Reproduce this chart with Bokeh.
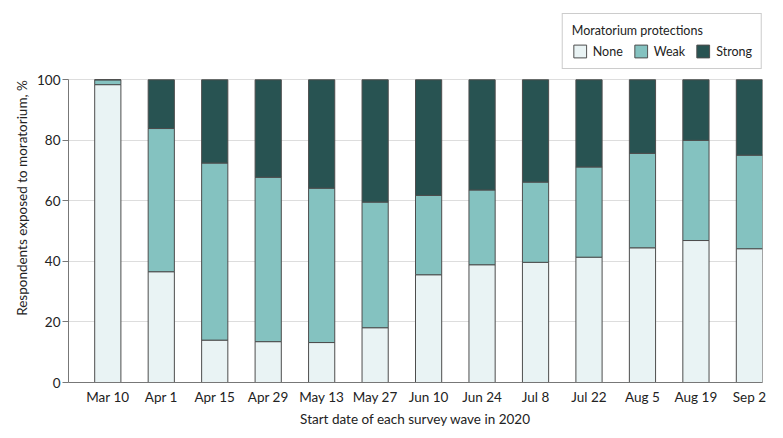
from bokeh.plotting import figure
from bokeh.models import ColumnDataSource, Legend, LegendItem, FixedTicker
from bokeh.embed import file_html
from bokeh.resources import INLINE

categories = ["Mar 10", "Apr 1", "Apr 15", "Apr 29", "May 13", "May 27", "Jun 10",
              "Jun 24", "Jul 8", "Jul 22", "Aug 5", "Aug 19", "Sep 2"]
none_pct = [98.4, 36.6, 14.0, 13.5, 13.2, 18.1, 35.6, 38.9, 39.7, 41.4, 44.5, 46.9, 44.2]
weak_pct = [1.6, 47.3, 58.5, 54.3, 51.0, 41.5, 26.2, 24.7, 26.5, 29.8, 31.2, 33.1, 30.9]
strong_pct = [0.0, 16.1, 27.5, 32.2, 35.8, 40.4, 38.2, 36.4, 33.8, 28.8, 24.3, 20.0, 24.9]
series = ["None", "Weak", "Strong"]
colors = ["#E9F3F4", "#84C2C0", "#285352"]
y_ticks = [0, 20, 40, 60, 80, 100]

FONT = "Lato"
xs = list(range(len(categories)))
src = ColumnDataSource(dict(x=xs, none=none_pct, weak=weak_pct, strong=strong_pct))

# frame extends above 100 to leave room for the legend; axis line bounded to 0-100
p = figure(width=783, height=438, output_backend="svg", toolbar_location=None,
           x_range=(-0.735, len(categories) - 1 + 0.245), y_range=(0, 121.9),
           min_border_left=68, min_border_right=21, min_border_top=13, min_border_bottom=56)
p.outline_line_color = None

renderers = p.vbar_stack(["none", "weak", "strong"], x="x", width=0.49, source=src,
                         fill_color=colors, line_color="#4d4d4d", line_width=1)

p.xgrid.grid_line_color = None
p.ygrid.grid_line_color = "#dddddd"
p.ygrid.grid_line_width = 1

p.xaxis.ticker = FixedTicker(ticks=xs)
p.xaxis.major_label_overrides = {i: c for i, c in enumerate(categories)}
p.xaxis.major_tick_line_color = None
p.xaxis.minor_tick_line_color = None
p.xaxis.axis_line_color = "#777777"
p.xaxis.major_label_standoff = 0
p.xaxis.axis_label = "Start date of each survey wave in 2020"
p.xaxis.axis_label_standoff = 3

p.yaxis.ticker = FixedTicker(ticks=y_ticks)
p.yaxis.bounds = (0, 100)
p.yaxis.minor_tick_line_color = None
p.yaxis.major_tick_out = 6
p.yaxis.major_tick_in = 0
p.yaxis.major_tick_line_color = "#777777"
p.yaxis.axis_line_color = "#777777"
p.yaxis.major_label_standoff = 2
p.yaxis.axis_label = "Respondents exposed to moratorium, %"
p.yaxis.axis_label_standoff = 4

for ax in (p.xaxis, p.yaxis):
    ax.major_label_text_font = FONT
    ax.major_label_text_font_size = "13.5px"
    ax.major_label_text_color = "#222222"
    ax.axis_label_text_font = FONT
    ax.axis_label_text_font_size = "13.5px"
    ax.axis_label_text_font_style = "normal"
    ax.axis_label_text_color = "#222222"

legend = Legend(items=[LegendItem(label=s, renderers=[r]) for s, r in zip(series, renderers)],
                orientation="horizontal", location="top_right",
                title="Moratorium protections", title_text_font=FONT,
                title_text_font_size="12.5px", title_text_font_style="normal",
                title_text_color="#222222", title_standoff=5,
                label_text_font=FONT, label_text_font_size="12.5px", label_text_color="#222222",
                label_standoff=5,
                border_line_color="#999999", border_line_width=1,
                glyph_width=16, glyph_height=16, spacing=10, padding=9, margin=0)
p.add_layout(legend)

open("out.html", "w").write(file_html(p, INLINE))
